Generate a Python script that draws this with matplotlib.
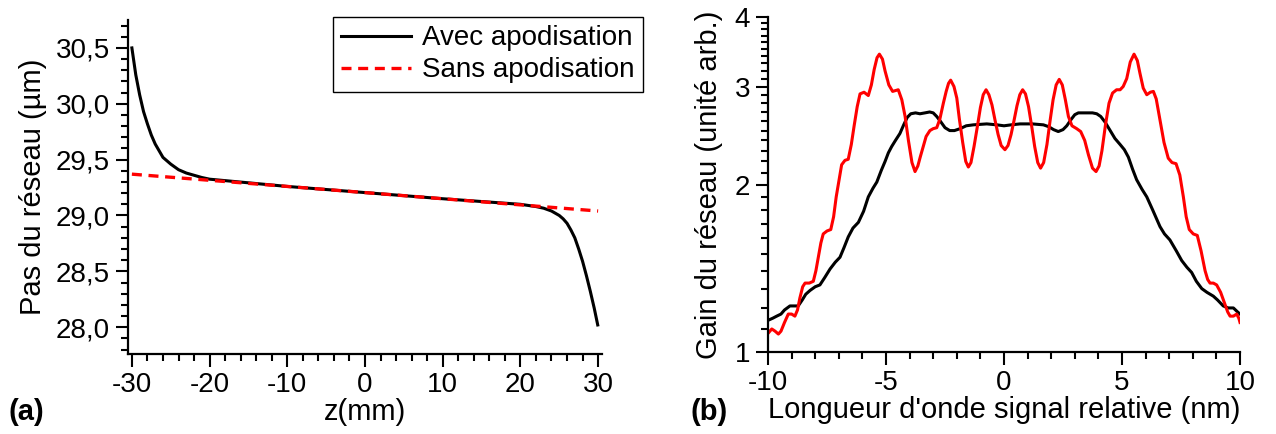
import numpy as np
import matplotlib
matplotlib.use('Agg')
from matplotlib import pyplot as plt
from matplotlib.ticker import MultipleLocator, FixedLocator, FuncFormatter, NullFormatter

plt.rcParams['font.family'] = ['Liberation Sans', 'DejaVu Sans']
plt.rcParams['axes.unicode_minus'] = False

# (a) pas du reseau
z_avec = [-30, -29.75, -29.5, -29.25, -29, -28.5, -28, -27.5, -27, -26.5, -26,
          -25, -24, -23, -22, -21, -20, -10, 0, 10, 20, 21, 22, 23, 24, 25,
          25.5, 26, 26.5, 27, 27.5, 28, 28.5, 29, 29.5, 29.95]
pas_avec = [30.50, 30.38, 30.26, 30.17, 30.08, 29.93, 29.82, 29.72, 29.64, 29.58,
            29.52, 29.46, 29.41, 29.38, 29.36, 29.34, 29.325, 29.26, 29.205,
            29.15, 29.10, 29.09, 29.08, 29.065, 29.04, 29.00, 28.97, 28.93,
            28.87, 28.80, 28.70, 28.59, 28.46, 28.32, 28.17, 28.02]
z_sans = [-30, 30]
pas_sans = [29.37, 29.04]

# (b) gain du reseau
lam_avec = [-10, -9.8, -9.63, -9.45, -9.3, -9.07, -8.9, -8.72, -8.55, -8.4, -8.22,
            -8.0, -7.8, -7.6, -7.37, -7.15, -6.95, -6.78, -6.6, -6.4, -6.17,
            -5.95, -5.75, -5.55, -5.39, -5.2, -5.04, -4.9, -4.76, -4.6, -4.41,
            -4.25, -4.1, -3.95, -3.75, -3.56, -3.35, -3.15, -3.0, -2.85, -2.7,
            -2.5, -2.3, -2.1, -1.86, -1.6, -1.3, -0.73, -0.3, 0.0, 0.3, 0.68,
            1.2, 1.67, 1.9, 2.1, 2.3, 2.5, 2.66, 2.85, 3.0, 3.15, 3.5, 3.75,
            3.93, 4.1, 4.28, 4.5, 4.7, 4.92, 5.1, 5.27, 5.45, 5.62, 5.85, 6.05,
            6.3, 6.61, 6.8, 7.03, 7.3, 7.53, 7.75, 7.95, 8.15, 8.38, 8.6, 8.87,
            9.05, 9.29, 9.5, 9.72, 9.9, 10]
gain_avec = [1.14, 1.15, 1.16, 1.17, 1.19, 1.21, 1.21, 1.21, 1.24, 1.27, 1.29,
             1.31, 1.32, 1.36, 1.41, 1.45, 1.48, 1.54, 1.61, 1.67, 1.71,
             1.79, 1.90, 1.97, 2.02, 2.12, 2.20, 2.28, 2.34, 2.40, 2.47,
             2.56, 2.64, 2.68, 2.69, 2.68, 2.69, 2.70, 2.69, 2.65, 2.60,
             2.53, 2.50, 2.50, 2.52, 2.55, 2.56, 2.57, 2.56, 2.55, 2.56, 2.57,
             2.57, 2.56, 2.54, 2.51, 2.49, 2.51, 2.55, 2.62, 2.67, 2.69, 2.69, 2.69,
             2.68, 2.65, 2.59, 2.50, 2.42, 2.36, 2.31, 2.24, 2.13, 2.04, 1.96, 1.90,
             1.80, 1.68, 1.63, 1.59, 1.52, 1.46, 1.42, 1.39, 1.34, 1.30, 1.28, 1.26,
             1.24, 1.21, 1.20, 1.20, 1.18, 1.17]

lam_sans = [-10, -9.92, -9.84, -9.7, -9.56, -9.45, -9.3, -9.14, -9.0, -8.86,
            -8.75, -8.65, -8.53, -8.43, -8.25, -8.08, -7.97, -7.87, -7.76, -7.66,
            -7.5, -7.34, -7.22, -7.11, -6.98, -6.88, -6.74, -6.6, -6.47, -6.35,
            -6.22, -6.1, -5.93, -5.75, -5.62, -5.5, -5.38, -5.28, -5.15, -5.04,
            -4.88, -4.72, -4.6, -4.48, -4.33, -4.19, -4.05, -3.9, -3.77, -3.65,
            -3.55, -3.42, -3.3, -3.14, -3.0, -2.85, -2.72, -2.57, -2.45, -2.35,
            -2.26, -2.12, -2.0, -1.89, -1.75, -1.62, -1.51, -1.4, -1.27, -1.13,
            -1.0, -0.88, -0.76, -0.64, -0.51, -0.38, -0.25, -0.12, 0.04, 0.17,
            0.3, 0.42, 0.55, 0.67, 0.79, 0.91, 1.04, 1.17, 1.3, 1.43, 1.55,
            1.68, 1.82, 1.95, 2.08, 2.21, 2.34, 2.47, 2.6, 2.73, 2.88, 3.08,
            3.25, 3.42, 3.58, 3.75, 3.9, 4.03, 4.15, 4.3, 4.45, 4.6, 4.77,
            4.92, 5.05, 5.2, 5.35, 5.51, 5.65, 5.76, 5.9, 6.05, 6.2, 6.33,
            6.45, 6.61, 6.78, 6.96, 7.12, 7.29, 7.45, 7.6, 7.72, 7.85, 8.02,
            8.19, 8.35, 8.52, 8.63, 8.73, 8.87, 9.01, 9.18, 9.36, 9.48, 9.58,
            9.72, 9.86, 9.95, 10]
gain_sans = [1.08, 1.09, 1.10, 1.09, 1.077, 1.09, 1.13, 1.17, 1.17, 1.16,
             1.19, 1.25, 1.31, 1.33, 1.33, 1.34, 1.40, 1.48, 1.57, 1.63,
             1.65, 1.66, 1.75, 1.90, 2.05, 2.17, 2.21, 2.22, 2.36, 2.55,
             2.76, 2.91, 2.93, 2.89, 3.02, 3.22, 3.38, 3.43, 3.36, 3.20,
             3.02, 2.94, 2.95, 2.96, 2.84, 2.65, 2.40, 2.19, 2.11, 2.16,
             2.24, 2.34, 2.44, 2.50, 2.52, 2.53, 2.62, 2.80, 2.94, 3.04,
             3.08, 3.00, 2.86, 2.62, 2.38, 2.20, 2.15, 2.19, 2.34, 2.54,
             2.75, 2.90, 2.96, 2.90, 2.78, 2.61, 2.46, 2.35, 2.31, 2.35,
             2.46, 2.60, 2.77, 2.90, 2.96, 2.91, 2.76, 2.55, 2.34, 2.19, 2.14,
             2.19, 2.36, 2.60, 2.84, 3.02, 3.09, 3.02, 2.84, 2.65, 2.55, 2.52,
             2.49, 2.40, 2.26, 2.14, 2.11, 2.16, 2.30, 2.56, 2.80, 2.92, 2.96,
             2.96, 3.00, 3.10, 3.32, 3.43, 3.34, 3.17, 2.98, 2.90, 2.93, 2.94,
             2.85, 2.61, 2.38, 2.23, 2.19, 2.18, 2.08, 1.90, 1.75, 1.66, 1.63,
             1.62, 1.52, 1.40, 1.35, 1.33, 1.33, 1.32, 1.28, 1.22, 1.18, 1.16,
             1.16, 1.17, 1.15, 1.13]

W, H = 1276, 434
fig = plt.figure(figsize=(W / 100, H / 100), dpi=100)

fs = 20
lfs = 21
tick_kw = dict(direction='out', width=1.5, labelsize=fs)

def comma(v, pos):
    return ('%.1f' % v).replace('.', ',')

def style(ax):
    for s in ['top', 'right']:
        ax.spines[s].set_visible(False)
    for s in ['left', 'bottom']:
        ax.spines[s].set_linewidth(1.6)
    ax.tick_params(which='major', length=9, pad=4, **tick_kw)
    ax.tick_params(which='minor', length=5, **tick_kw)

# ---- (a)
ax1 = fig.add_axes([128 / W, 1 - 354 / H, 474 / W, 334 / H])
ax1.plot(z_avec, pas_avec, color='black', lw=2.2, label='Avec apodisation')
ax1.plot(z_sans, pas_sans, color='red', lw=2.4, ls=(0, (3, 2)), label='Sans apodisation')
ax1.set_xlim(-30.5, 30.5)
ax1.set_ylim(27.76, 30.75)
ax1.xaxis.set_major_locator(MultipleLocator(10))
ax1.xaxis.set_minor_locator(MultipleLocator(2))
ax1.yaxis.set_major_locator(FixedLocator([28.0, 28.5, 29.0, 29.5, 30.0, 30.5]))
ax1.yaxis.set_minor_locator(MultipleLocator(0.1))
ax1.yaxis.set_major_formatter(FuncFormatter(comma))
style(ax1)
ax1.set_xlabel('z(mm)', fontsize=lfs, labelpad=0)
ax1.set_ylabel('Pas du réseau (µm)', fontsize=lfs, labelpad=6)

# ---- (b)
ax2 = fig.add_axes([768 / W, 1 - 352 / H, 472 / W, 335 / H])
ax2.plot(lam_avec, gain_avec, color='black', lw=2.2)
ax2.plot(lam_sans, gain_sans, color='red', lw=2.2)
ax2.set_yscale('log')
ax2.set_xlim(-10, 10)
ax2.set_ylim(1, 4)
ax2.xaxis.set_major_locator(MultipleLocator(5))
ax2.xaxis.set_minor_locator(MultipleLocator(1))
ax2.yaxis.set_major_locator(FixedLocator([1, 2, 3, 4]))
ax2.yaxis.set_major_formatter(FuncFormatter(lambda v, p: '%d' % round(v)))
minors = [a + b / 10 for a in (1, 2, 3) for b in range(1, 10)]
ax2.yaxis.set_minor_locator(FixedLocator(minors))
ax2.yaxis.set_minor_formatter(NullFormatter())
style(ax2)
ax2.set_xlabel('Longueur d\'onde signal relative (nm)', fontsize=lfs, labelpad=0)
ax2.set_ylabel('Gain du réseau (unité arb.)', fontsize=lfs, labelpad=8)

# legend in figure coords, sticks out past panel (a)
leg = fig.legend(loc='upper left', bbox_to_anchor=(333 / W, 1 - 17 / H),
                 fontsize=20, frameon=True, fancybox=False, edgecolor='black',
                 framealpha=1, handlelength=2.5, handletextpad=0.4,
                 borderpad=0.3, labelspacing=0.22, borderaxespad=0)
leg.get_frame().set_linewidth(1.0)

fig.text(8 / W, 1 - 412 / H, '(a)', fontsize=lfs, fontweight='bold', va='center')
fig.text(690 / W, 1 - 412 / H, '(b)', fontsize=lfs, fontweight='bold', va='center')

fig.savefig('out.png', dpi=100)
